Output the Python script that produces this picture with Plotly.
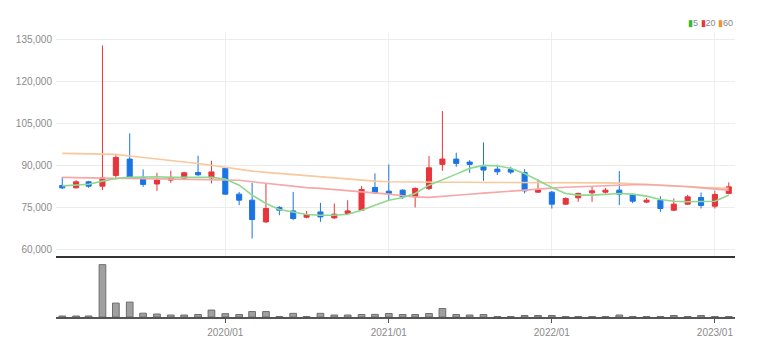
import pandas as pd
import plotly.graph_objects as go

# ---- data (monthly, 2019/01 .. 2023/02) ----
months = pd.date_range("2019-01-01", periods=50, freq="MS")

opens = [82870, 82000, 84160, 82600, 86450, 92300, 85740, 83390, 84770, 85480,
         87530, 85560, 88970, 79750, 77600, 69810, 75000, 73750, 71490, 73390,
         71240, 72820, 74000, 82150, 80820, 81180, 78770, 81790, 90400, 92300,
         91230, 89540, 88710, 88600, 87530, 80460, 80460, 76160, 78420, 80210,
         80460, 81180, 79510, 76900, 77590, 74000, 76160, 78560, 75440, 80000]
highs = [85850, 84770, 84500, 133000, 93740, 101520, 88610, 87390, 88100, 87750,
         93490, 91700, 89300, 80570, 83800, 83590, 75440, 80570, 73750, 76620,
         76400, 77590, 82610, 87170, 90400, 81500, 82200, 93380, 109520, 94570,
         91940, 98290, 90300, 89540, 88710, 85020, 80900, 78600, 80300, 82610,
         82000, 88000, 79900, 78400, 79030, 78200, 79500, 80350, 81000, 83940]
lows = [81540, 81800, 82000, 81180, 85020, 85380, 82360, 80930, 83800, 84770,
        86200, 83590, 79500, 75800, 63850, 69450, 72210, 70420, 71100, 69810,
        70900, 72500, 73800, 79750, 77590, 78000, 74970, 81200, 88100, 89540,
        87390, 84520, 86600, 86900, 80000, 80200, 74610, 75900, 77000, 77000,
        79900, 75800, 76500, 76500, 73390, 73700, 75900, 74600, 74600, 79700]
closes = [82000, 84160, 82600, 85600, 92910, 85950, 83230, 84770, 85740, 87390,
          86680, 87710, 79750, 77600, 70670, 74600, 74000, 71020, 72460, 71600,
          72570, 73750, 81430, 80210, 80000, 78770, 81790, 89180, 92300, 90760,
          90400, 88360, 87750, 87640, 80930, 81430, 76160, 78200, 80000, 80930,
          81180, 79750, 77230, 77590, 74610, 76160, 78780, 75690, 79630, 82360]

ma5 = [82720, 83000, 83300, 84400, 85380, 85740, 85970, 86000, 85740, 85740,
       85970, 85740, 85200, 82970, 79390, 76400, 74250, 73390, 72460, 72210,
       72210, 72570, 74000, 75800, 77590, 78560, 80000, 82970, 84770, 86920,
       88970, 90040, 89900, 88970, 87170, 84770, 82150, 80000, 79390, 79390,
       79630, 80000, 79750, 79030, 77840, 77230, 77000, 77000, 77230, 79390]
ma20 = [85740, 85600, 85500, 85380, 85380, 85380, 85300, 85250, 85200, 85150,
        85100, 85050, 85020, 84700, 84160, 83600, 83000, 82500, 82100, 81800,
        81400, 81100, 80800, 80300, 79750, 79200, 78780, 78600, 78900, 79300,
        79700, 80100, 80500, 80900, 81200, 81600, 81900, 82200, 82400, 82600,
        82800, 82970, 83100, 83200, 83000, 82700, 82380, 82000, 81600, 81180]
ma60 = [94330, 94300, 94200, 94100, 93990, 93380, 92900, 92400, 91900, 91300,
        90700, 90100, 89400, 88600, 88000, 87550, 87170, 86700, 86250, 85800,
        85380, 85000, 84700, 84400, 84160, 84050, 83950, 83950, 84000, 84000,
        84000, 84000, 83950, 83950, 83950, 83950, 83950, 83950, 83950, 83900,
        83800, 83700, 83500, 83300, 83100, 82800, 82500, 82200, 82000, 81800]

volumes = [30, 30, 30, 1580, 420, 450, 115, 90, 60, 60,
           75, 210, 100, 75, 165, 165, 15, 110, 15, 110,
           60, 60, 75, 80, 105, 75, 75, 105, 255, 75,
           60, 75, 15, 15, 45, 45, 45, 15, 15, 15,
           15, 60, 15, 15, 15, 45, 15, 45, 15, 15]

year_ticks = ["2020-01-01", "2021-01-01", "2022-01-01", "2023-01-01"]
year_labels = ["2020/01", "2021/01", "2022/01", "2023/01"]
price_ticks = [60000, 75000, 90000, 105000, 120000, 135000]

UP = "#e8343b"
DOWN = "#1b74e4"
FONT = "Liberation Sans Narrow, Arial Narrow, Liberation Sans, sans-serif"

fig = go.Figure()

fig.add_trace(go.Scatter(x=months, y=ma60, mode="lines", line=dict(color="#f9c89c", width=1.6),
                         showlegend=False, hoverinfo="skip", xaxis="x", yaxis="y"))
fig.add_trace(go.Scatter(x=months, y=ma20, mode="lines", line=dict(color="#f6a7a7", width=1.6),
                         showlegend=False, hoverinfo="skip", xaxis="x", yaxis="y"))
fig.add_trace(go.Scatter(x=months, y=ma5, mode="lines", line=dict(color="#8ed98e", width=1.6),
                         showlegend=False, hoverinfo="skip", xaxis="x", yaxis="y"))

fig.add_trace(go.Candlestick(
    x=months, open=opens, high=highs, low=lows, close=closes,
    increasing=dict(line=dict(color=UP, width=1), fillcolor=UP),
    decreasing=dict(line=dict(color=DOWN, width=1), fillcolor=DOWN),
    whiskerwidth=0, showlegend=False, xaxis="x", yaxis="y"))

fig.add_trace(go.Bar(x=months, y=volumes, marker=dict(color="#a0a0a0", line=dict(color="#6e6e6e", width=1)),
                     width=1000 * 3600 * 24 * 15, showlegend=False, xaxis="x2", yaxis="y2"))

xrange = ["2018-12-18", "2023-02-15"]

fig.update_layout(
    width=750, height=341,
    margin=dict(l=48, r=23, t=24, b=32),
    paper_bgcolor="white", plot_bgcolor="white",
    boxgap=0.42,
    font=dict(family=FONT, size=10, color="#888888"),
    xaxis=dict(domain=[0, 1], anchor="y", type="date", range=xrange, rangeslider=dict(visible=False),
               tickvals=year_ticks, showticklabels=False, ticks="",
               showgrid=True, gridcolor="#efefef", gridwidth=1,
               showline=True, linecolor="#333333", linewidth=2, zeroline=False),
    yaxis=dict(domain=[0.214, 1], anchor="x", range=[57600, 137800], tickvals=price_ticks,
               tickformat=",", showgrid=True, gridcolor="#ececec", gridwidth=1,
               zeroline=False, showline=False, ticks="", ticklabelstandoff=3,
               automargin=False, tickfont=dict(size=10, color="#8a8a8a")),
    xaxis2=dict(domain=[0, 1], anchor="y2", type="date", range=xrange, matches="x",
                tickvals=year_ticks, ticktext=year_labels, ticks="outside", ticklen=4,
                tickcolor="#555555", showgrid=False, showline=True, linecolor="#555555",
                linewidth=2, zeroline=False, ticklabelstandoff=1, automargin=False,
                tickfont=dict(size=10, color="#8a8a8a")),
    yaxis2=dict(domain=[0, 0.193], anchor="x2", range=[0, 1660], showticklabels=False,
                showgrid=False, zeroline=False, showline=False),
    showlegend=False,
)

fig.add_annotation(
    xref="paper", yref="paper", x=1.0, y=1.0, xanchor="right", yanchor="bottom", yshift=2,
    showarrow=False, align="right",
    text=("<span style='color:#2fb82f'>▮</span>5 "
          "<span style='color:#e8343b'>▮</span>20 "
          "<span style='color:#f0922e'>▮</span>60"),
    font=dict(family=FONT, size=9, color="#888888"))

fig.write_html("out.html")
